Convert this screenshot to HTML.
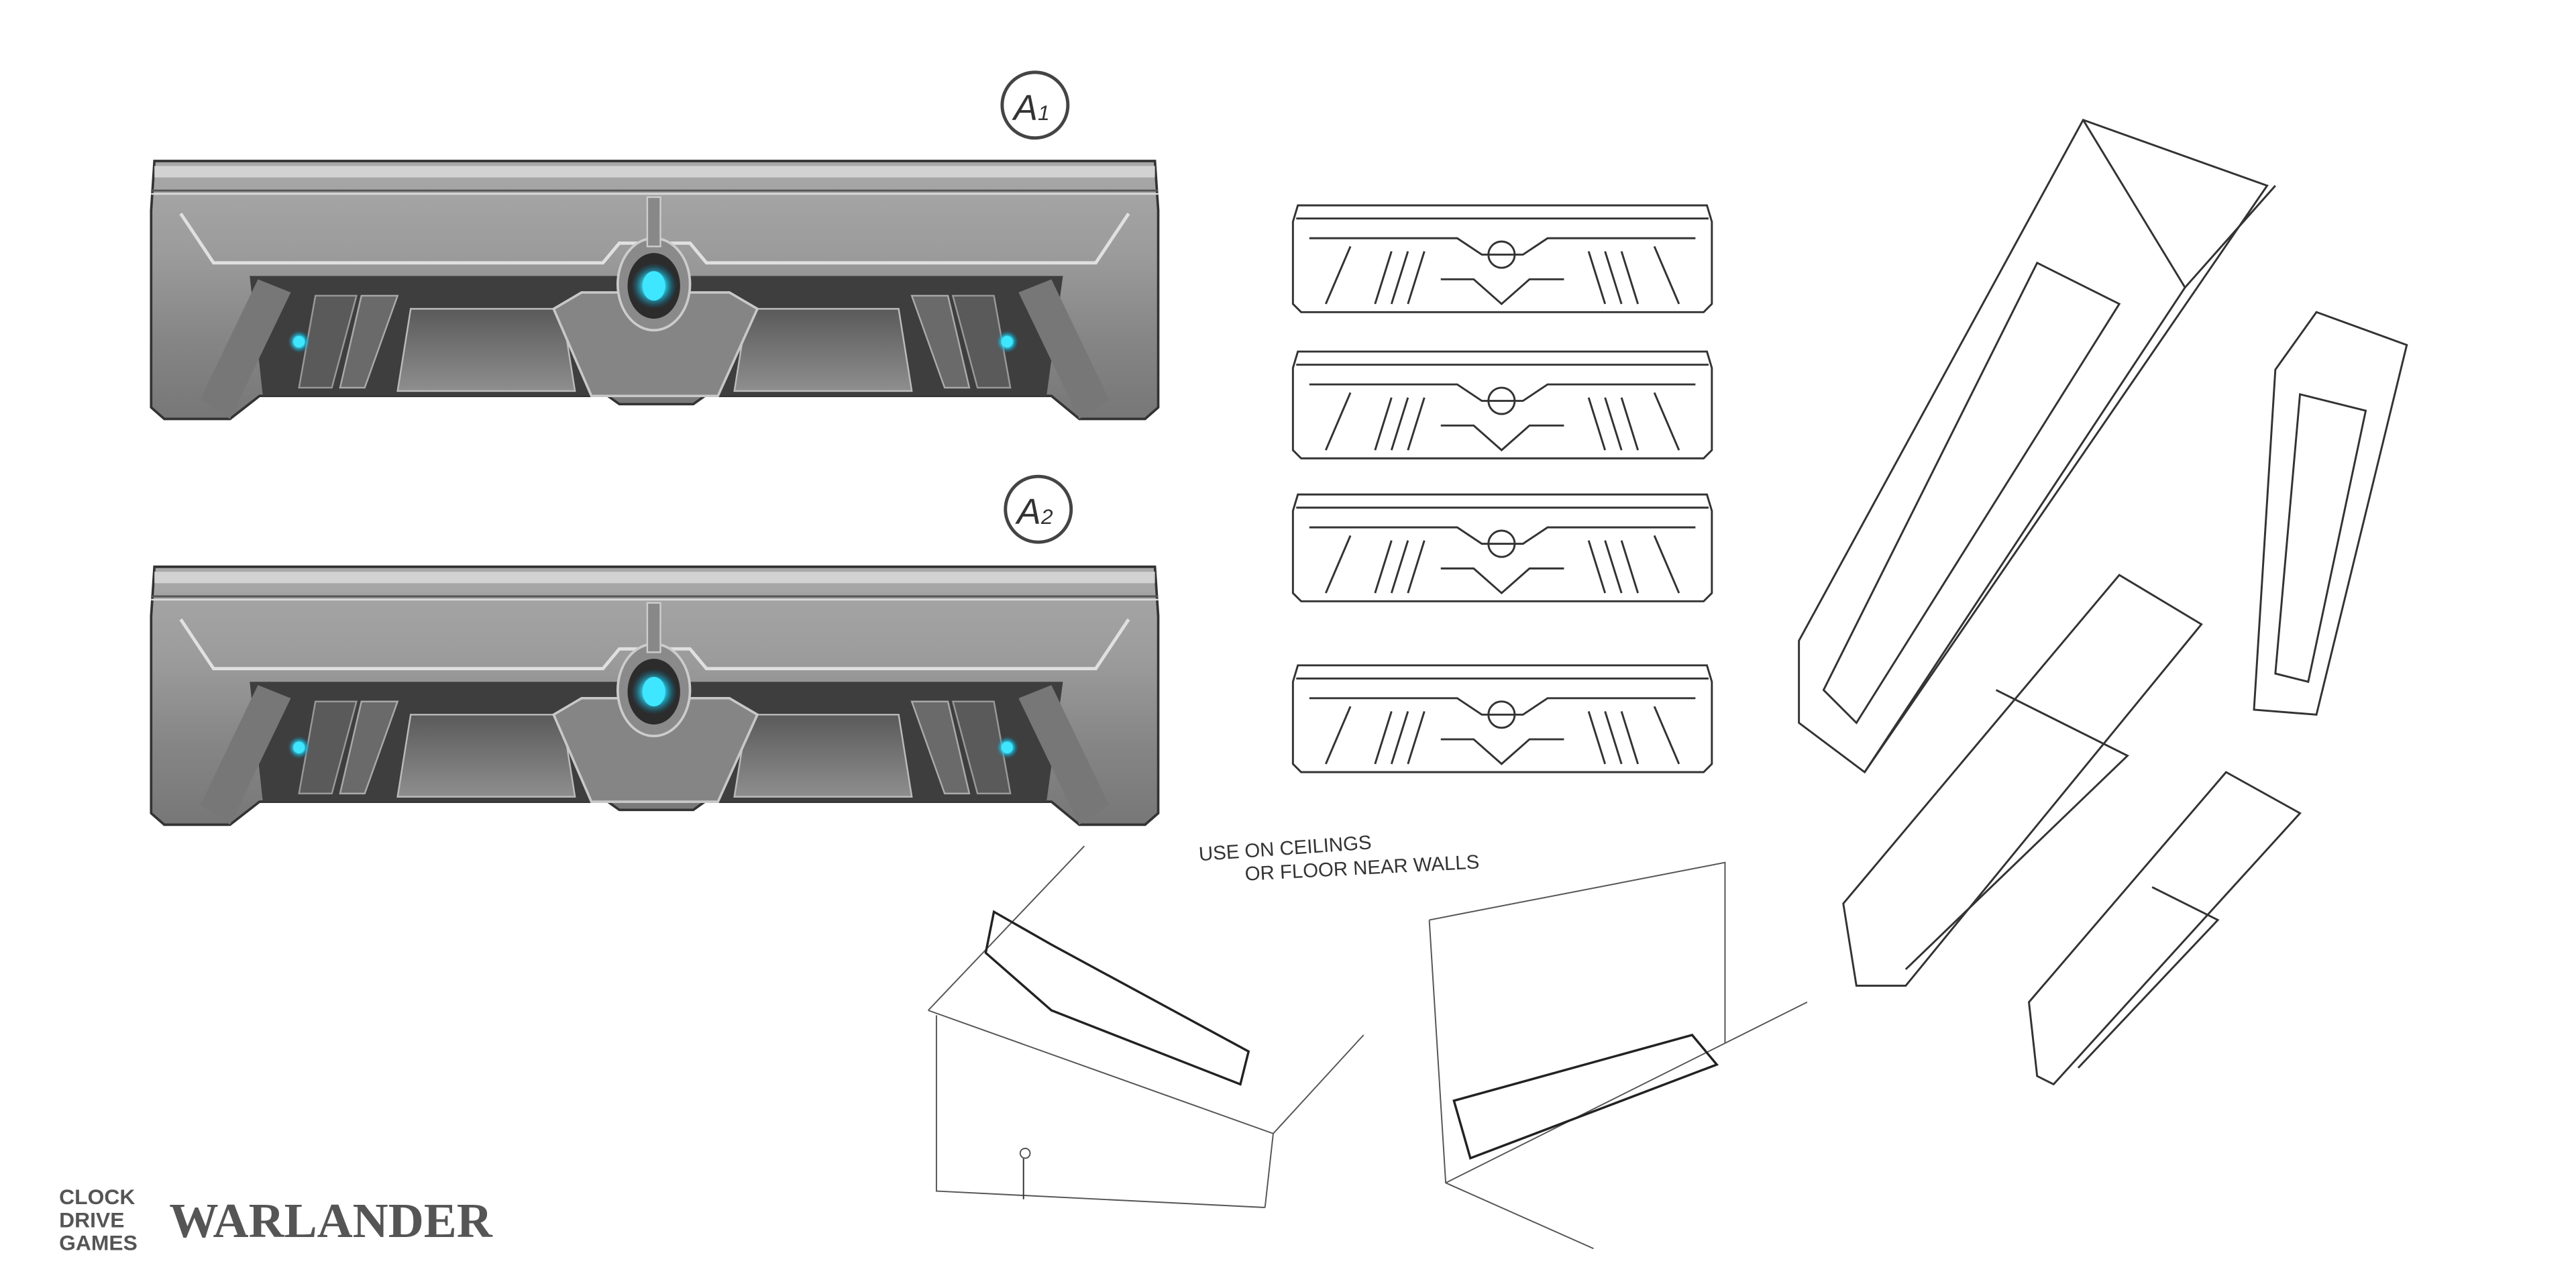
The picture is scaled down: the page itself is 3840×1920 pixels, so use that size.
<!DOCTYPE html>
<html><head><meta charset="utf-8"><style>
html,body{margin:0;padding:0;background:#fff;}
svg{display:block;}
</style></head><body>
<svg width="3840" height="1920" viewBox="0 0 1568 784" xmlns="http://www.w3.org/2000/svg">
<defs>
<linearGradient id="g1" x1="0" y1="0" x2="0" y2="1">
<stop offset="0" stop-color="#a8a8a8"/><stop offset="0.35" stop-color="#9c9c9c"/><stop offset="0.7" stop-color="#858585"/><stop offset="1" stop-color="#777"/>
</linearGradient>
<linearGradient id="gp" x1="0" y1="0" x2="0" y2="1">
<stop offset="0" stop-color="#5a5a5a"/><stop offset="1" stop-color="#8e8e8e"/>
</linearGradient>
<radialGradient id="glow"><stop offset="0" stop-color="#e0ffff"/><stop offset="0.45" stop-color="#30d8f0"/><stop offset="1" stop-color="#0a6a90" stop-opacity="0"/></radialGradient>
<g id="panel">
<path d="M2 0 L611 0 L613 30 L613 150 L605 157 L565 157 L548 143 L337 143 L330 148 L285 148 L278 143 L66 143 L48 157 L8 157 L0 150 L0 30 Z" fill="url(#g1)" stroke="#333" stroke-width="1.5"/>
<rect x="2" y="3" width="609" height="7" fill="#d2d2d2"/>
<line x1="0" y1="18" x2="613" y2="18" stroke="#555" stroke-width="1.2"/>
<line x1="0" y1="20" x2="613" y2="20" stroke="#ddd" stroke-width="1"/>
<path d="M18 32 L38 62 L275 62 L285 50 L328 50 L338 62 L575 62 L595 32" fill="none" stroke="#e0e0e0" stroke-width="2"/>
<path d="M60 70 L555 70 L545 143 L68 143 Z" fill="#3e3e3e"/>
<path d="M65 72 L30 145 L48 157 L85 80 Z" fill="#777"/>
<path d="M548 72 L583 145 L565 157 L528 80 Z" fill="#777"/>
<path d="M100 82 L125 82 L110 138 L90 138 Z" fill="#5a5a5a" stroke="#999"/>
<path d="M488 82 L513 82 L523 138 L503 138 Z" fill="#5a5a5a" stroke="#999"/>
<path d="M128 82 L150 82 L130 138 L115 138 Z" fill="#6a6a6a" stroke="#aaa"/>
<path d="M463 82 L485 82 L498 138 L483 138 Z" fill="#6a6a6a" stroke="#aaa"/>
<path d="M158 90 L250 90 L258 140 L150 140 Z" fill="url(#gp)" stroke="#bbb"/>
<path d="M363 90 L455 90 L463 140 L355 140 Z" fill="url(#gp)" stroke="#bbb"/>
<path d="M245 90 L262 80 L352 80 L369 90 L345 143 L268 143 Z" fill="#858585" stroke="#c8c8c8" stroke-width="1.5"/>
<ellipse cx="306" cy="75" rx="22" ry="28" fill="#8a8a8a" stroke="#ccc" stroke-width="1.5"/>
<ellipse cx="306" cy="76" rx="16" ry="20" fill="#2c2c2c"/>
<circle cx="306" cy="76" r="14" fill="url(#glow)"/>
<ellipse cx="306" cy="76" rx="7" ry="9" fill="#3ee6ff"/>
<rect x="302" y="22" width="8" height="30" fill="#888" stroke="#ccc"/>
<circle cx="90" cy="110" r="7" fill="url(#glow)"/>
<circle cx="90" cy="110" r="3.5" fill="#3ee6ff"/>
<circle cx="521" cy="110" r="7" fill="url(#glow)"/>
<circle cx="521" cy="110" r="3.5" fill="#3ee6ff"/>
</g>
<g id="mini" fill="none" stroke="#333" stroke-width="1.2">
<path d="M3 0 L252 0 L255 10 L255 60 L250 65 L5 65 L0 60 L0 10 Z"/>
<line x1="2" y1="8" x2="253" y2="8"/>
<path d="M10 20 L100 20 L115 30 L140 30 L155 20 L245 20"/>
<path d="M20 60 L35 25 M220 25 L235 60"/>
<circle cx="127" cy="30" r="8"/>
<path d="M50 60 L60 28 M60 60 L70 28 M70 60 L80 28 M180 28 L190 60 M190 28 L200 60 M200 28 L210 60"/>
<path d="M90 45 L110 45 L127 60 L144 45 L165 45"/>
</g>
</defs>

<use href="#panel" x="92" y="98"/>
<use href="#panel" x="92" y="345"/>

<circle cx="630" cy="64" r="20" fill="none" stroke="#444" stroke-width="2"/>
<text x="617" y="73" font-family="Liberation Sans, sans-serif" font-size="22" fill="#333" font-style="italic">A<tspan font-size="13">1</tspan></text>
<circle cx="632" cy="310" r="20" fill="none" stroke="#444" stroke-width="2"/>
<text x="619" y="319" font-family="Liberation Sans, sans-serif" font-size="22" fill="#333" font-style="italic">A<tspan font-size="13">2</tspan></text>

<use href="#mini" x="787" y="125"/>
<use href="#mini" x="787" y="214"/>
<use href="#mini" x="787" y="301"/>
<use href="#mini" x="787" y="405"/>

<g fill="none" stroke="#333" stroke-width="1.2">
<path d="M1268 73 L1380 113 L1135 470 L1095 440 L1095 390 Z"/>
<path d="M1268 73 L1330 175 L1385 113"/>
<path d="M1330 175 L1135 470"/>
<path d="M1240 160 L1290 185 L1130 440 L1110 420 Z"/>
<path d="M1410 190 L1465 210 L1410 435 L1372 432 L1385 225 Z"/>
<path d="M1400 240 L1440 250 L1405 415 L1385 410 Z"/>
<path d="M1290 350 L1340 380 L1160 600 L1130 600 L1122 550 Z"/>
<path d="M1215 420 L1295 460 L1160 590"/>
<path d="M1355 470 L1400 495 L1250 660 L1240 655 L1235 610 Z"/>
<path d="M1310 540 L1350 560 L1265 650"/>
</g>
<g fill="none" stroke="#555" stroke-width="0.8">
<path d="M565 615 L660 515 M565 615 L775 690 L830 630 M775 690 L770 735 M570 618 L570 725 L770 735"/>
<path d="M605 555 L640 575 L760 640 L755 660 L640 615 L600 580 Z" stroke="#222" stroke-width="1.4"/>
<line x1="623" y1="705" x2="623" y2="730" stroke="#333"/>
<circle cx="624" cy="702" r="3"/>
<path d="M870 560 L1050 525 L1050 635 M870 560 L880 720 L970 760 M880 720 L1100 610"/>
<path d="M885 670 L1030 630 L1045 648 L895 705 Z" stroke="#222" stroke-width="1.4"/>
</g>
<text x="730" y="524" font-family="Liberation Sans, sans-serif" font-size="12" fill="#333" transform="rotate(-4 730 524)">USE ON CEILINGS</text>
<text x="758" y="536" font-family="Liberation Sans, sans-serif" font-size="12" fill="#333" transform="rotate(-3 758 536)">OR FLOOR NEAR WALLS</text>

<text x="36" y="733" font-family="Liberation Sans, sans-serif" font-weight="bold" font-size="13" fill="#555">CLOCK</text>
<text x="36" y="747" font-family="Liberation Sans, sans-serif" font-weight="bold" font-size="13" fill="#555">DRIVE</text>
<text x="36" y="761" font-family="Liberation Sans, sans-serif" font-weight="bold" font-size="13" fill="#555">GAMES</text>
<text x="103" y="753" font-family="Liberation Serif, serif" font-weight="bold" font-size="30" fill="#555">WARLANDER</text>
</svg>
</body></html>
